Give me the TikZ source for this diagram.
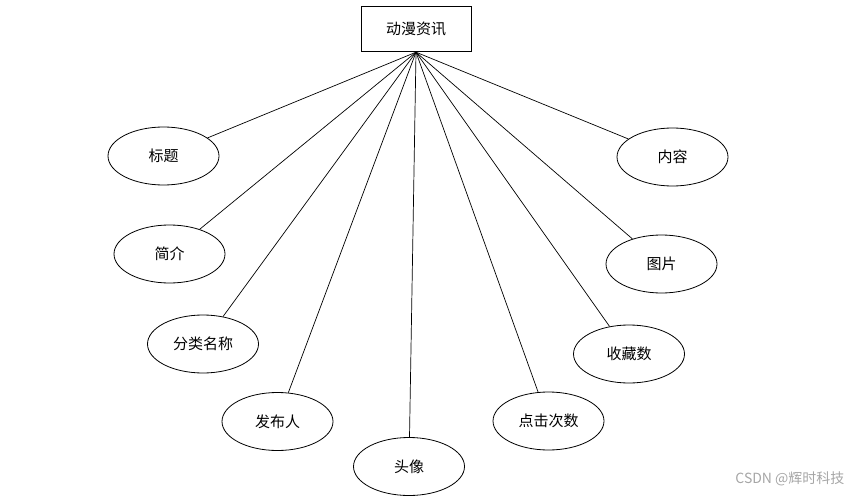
\documentclass[tikz,border=0pt]{standalone}
\usepackage{fontspec}
\newfontfamily\cjk{Noto Sans CJK SC}
\usetikzlibrary{shapes.geometric}
\tikzset{
  attr/.style={ellipse, draw, line width=0.8pt, minimum width=111pt, minimum height=58pt, inner sep=0pt, font=\cjk\fontsize{15}{18}\selectfont},
  entity/.style={rectangle, draw, line width=0.8pt, minimum width=110pt, minimum height=45pt, inner sep=0pt, font=\cjk\fontsize{15}{18}\selectfont},
  link/.style={line width=0.7pt},
  mark text/.style={font=\cjk\fontsize{14}{16}\selectfont, text=black!35}
}
\begin{document}
\begin{tikzpicture}[x=1pt,y=-1pt]
\useasboundingbox (0,0) rectangle (850,497);
\node[entity] (top) at (416,29.3) {动漫资讯};
\node[attr] (a1) at (163.5,156) {标题};
\node[attr] (a2) at (169.5,254) {简介};
\node[attr] (a3) at (203,344) {分类名称};
\node[attr] (a4) at (277.5,421.5) {发布人};
\node[attr] (a5) at (409,466.5) {头像};
\node[attr] (a6) at (548.5,421) {点击次数};
\node[attr] (a7) at (629,354) {收藏数};
\node[attr] (a8) at (661.5,264) {图片};
\node[attr] (a9) at (672.5,157) {内容};
\foreach \i in {1,...,9} {
  \draw[link] (top.south) -- (a\i);
}
\node[mark text, anchor=east] (wm) at (848,479) {CSDN @辉时科技};
\end{tikzpicture}
\end{document}
